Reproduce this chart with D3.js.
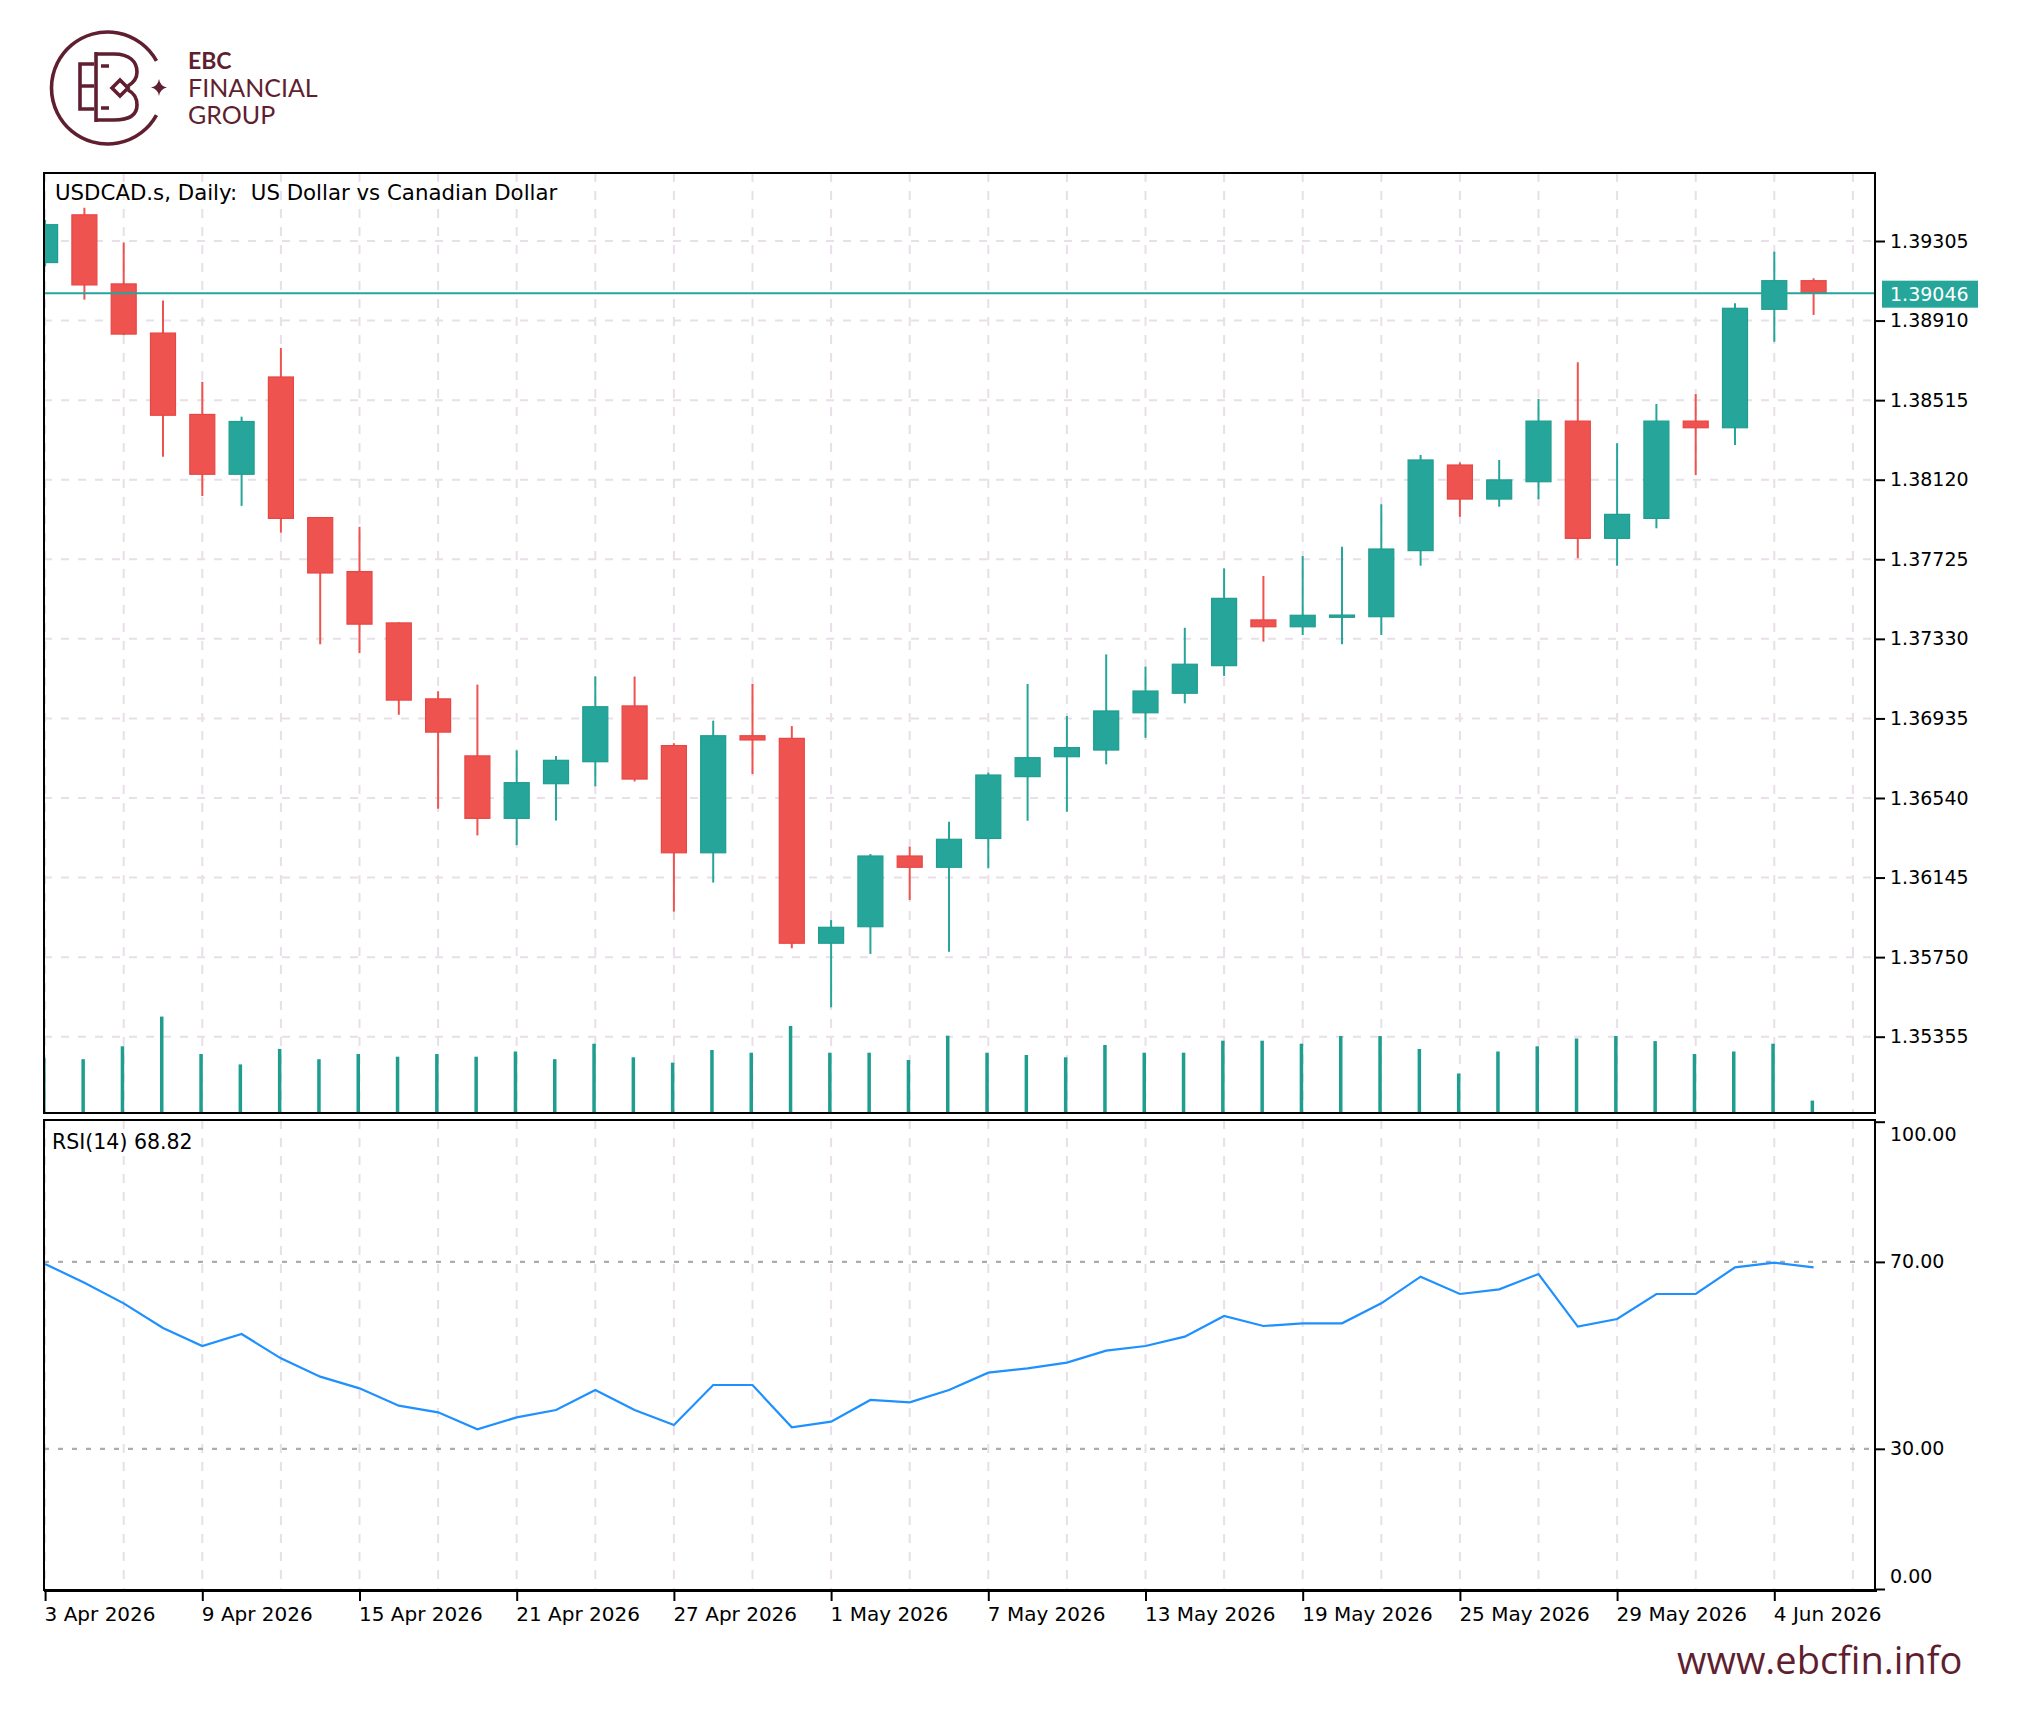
<!DOCTYPE html>
<html><head><meta charset="utf-8">
<script src="https://cdn.jsdelivr.net/npm/d3@7"></script>
<style>html,body{margin:0;padding:0;background:#fff;} svg{display:block;}</style>
</head><body>
<svg id="chart" width="2028" height="1710"></svg>
<script>
// ---------------- DATA ----------------
const dates = ["2026-04-03","2026-04-06","2026-04-07","2026-04-08","2026-04-09","2026-04-10",
"2026-04-13","2026-04-14","2026-04-15","2026-04-16","2026-04-17","2026-04-20","2026-04-21",
"2026-04-22","2026-04-23","2026-04-24","2026-04-27","2026-04-28","2026-04-29","2026-04-30",
"2026-05-01","2026-05-04","2026-05-05","2026-05-06","2026-05-07","2026-05-08","2026-05-11",
"2026-05-12","2026-05-13","2026-05-14","2026-05-15","2026-05-18","2026-05-19","2026-05-20",
"2026-05-21","2026-05-22","2026-05-25","2026-05-26","2026-05-27","2026-05-28","2026-05-29",
"2026-06-01","2026-06-02","2026-06-03","2026-06-04","2026-06-05"];
const open  = [1.39198,1.39435,1.39092,1.38848,1.38444,1.38147,1.38630,1.37932,1.37664,1.37409,
1.37032,1.36749,1.36439,1.36611,1.36720,1.36997,1.36800,1.36268,1.36849,1.36836,1.35819,1.35901,
1.36252,1.36196,1.36339,1.36646,1.36745,1.36778,1.36963,1.37060,1.37197,1.37424,1.37390,1.37437,
1.37440,1.37768,1.38193,1.38024,1.38110,1.38411,1.37829,1.37928,1.38411,1.38378,1.38966,1.39108];
const high  = [1.39410,1.39470,1.39298,1.39010,1.38606,1.38433,1.38774,1.37935,1.37886,1.37412,
1.37070,1.37103,1.36776,1.36749,1.37144,1.37143,1.36812,1.36924,1.37106,1.36897,1.35934,1.36262,
1.36298,1.36422,1.36666,1.37106,1.36947,1.37253,1.37192,1.37385,1.37680,1.37642,1.37741,1.37787,
1.37998,1.38243,1.38205,1.38218,1.38521,1.38703,1.38301,1.38496,1.38545,1.38996,1.39252,1.39120];
const low   = [1.39180,1.39014,1.38838,1.38234,1.38039,1.37990,1.37857,1.37303,1.37259,1.36953,
1.36487,1.36354,1.36306,1.36428,1.36598,1.36622,1.35976,1.36120,1.36659,1.35794,1.35501,1.35766,
1.36034,1.35777,1.36191,1.36427,1.36472,1.36707,1.36839,1.37010,1.37146,1.37316,1.37349,1.37303,
1.37349,1.37693,1.37936,1.37986,1.38023,1.37730,1.37693,1.37879,1.38143,1.38292,1.38805,1.38938];
const close = [1.39386,1.39087,1.38843,1.38440,1.38147,1.38409,1.37928,1.37657,1.37403,1.37026,
1.36867,1.36439,1.36616,1.36727,1.36993,1.36634,1.36268,1.36849,1.36828,1.35819,1.35898,1.36252,
1.36196,1.36335,1.36654,1.36740,1.36790,1.36972,1.37071,1.37204,1.37531,1.37390,1.37447,1.37448,
1.37776,1.38218,1.38024,1.38119,1.38411,1.37829,1.37948,1.38411,1.38378,1.38971,1.39108,1.39046];
const volume = [55000,53800,66700,96400,59000,48600,64100,53800,59000,56300,59000,56300,61500,
53800,69300,55700,50300,63000,60300,87000,60300,60300,53000,77300,60300,58000,55700,68000,60300,
60300,72300,72300,69300,77000,77000,64000,39500,61500,66700,74500,77000,71900,59000,61500,69300,12400];
const rsi = [69.55,65.55,61.13,55.85,52.00,54.57,49.36,45.44,42.94,39.23,37.80,34.17,36.73,38.31,
42.59,38.31,35.10,43.65,43.65,34.59,35.81,40.45,39.94,42.59,46.30,47.22,48.44,51.00,52.00,54.00,
58.42,56.28,56.85,56.85,61.13,66.84,63.13,64.13,67.41,56.14,57.78,63.13,63.13,68.83,69.84,68.82];
const priceTicks = [1.39305,1.38910,1.38515,1.38120,1.37725,1.37330,1.36935,1.36540,1.36145,1.35750,1.35355];
const rsiTicks = [0,30,70,100];
const rsiLevels = [30,70];
const dateTickIdx = [0,4,8,12,16,20,24,28,32,36,40,44];
const dateTickLabels = ["3 Apr 2026","9 Apr 2026","15 Apr 2026","21 Apr 2026","27 Apr 2026","1 May 2026",
"7 May 2026","13 May 2026","19 May 2026","25 May 2026","29 May 2026","4 Jun 2026"];
const lastPrice = 1.39046;
const title = "USDCAD.s, Daily:  US Dollar vs Canadian Dollar";
const rsiLabel = "RSI(14) 68.82";

// ---------------- LAYOUT ----------------
const L=44, R=1875, T=173, MB=1113, RT=1120, RB=1590;
const FONT = "'DejaVu Sans', sans-serif";
const UP = "#26A69A", DN = "#EF5350", GRID = "#e8dfe8", BRAND = "#5f1f30";

const svg = d3.select('#chart');
svg.append('rect').attr('width',2028).attr('height',1710).attr('fill','#fff');

const x = d3.scaleLinear().domain([0, dates.length-1]).range([45.1, 45.1 + 39.3*(dates.length-1)]);
const y = d3.scaleLinear().domain([1.349762, 1.396426]).range([MB, T]);
const yr = d3.scaleLinear().domain([0,100]).range([1589, 1121.7]);
const yv = d3.scaleLinear().domain([0,100000]).range([MB, MB-100]);

const defs = svg.append('defs');
defs.append('clipPath').attr('id','cMain').append('rect').attr('x',L+1).attr('y',T).attr('width',R-L-1).attr('height',MB-T);
defs.append('clipPath').attr('id','cRsi').append('rect').attr('x',L).attr('y',RT).attr('width',R-L).attr('height',RB-RT);

const gMain = svg.append('g').attr('clip-path','url(#cMain)');
const gRsi = svg.append('g').attr('clip-path','url(#cRsi)');

// grid
const gridIdx = d3.range(0, dates.length+1, 2);
[[gMain,T,MB],[gRsi,RT,RB]].forEach(([g,a,b])=>{
  g.selectAll('line.vg').data(gridIdx).join('line').attr('class','vg')
   .attr('x1',d=>x(d)).attr('x2',d=>x(d)).attr('y1',a).attr('y2',b)
   .attr('stroke',GRID).attr('stroke-width',2).attr('stroke-dasharray','9,9');
});
gMain.selectAll('line.hg').data(priceTicks).join('line').attr('class','hg')
  .attr('x1',L).attr('x2',R).attr('y1',d=>y(d)).attr('y2',d=>y(d))
  .attr('stroke',GRID).attr('stroke-width',2).attr('stroke-dasharray','8,9');

// volume
gMain.selectAll('rect.vol').data(volume).join('rect').attr('class','vol')
  .attr('x',(d,i)=>x(i)-3).attr('width',3.5).attr('y',d=>yv(d)).attr('height',d=>MB-yv(d))
  .attr('fill','#1f9d8f');

// candles
const idx = d3.range(dates.length);
gMain.selectAll('line.wick').data(idx).join('line').attr('class','wick')
  .attr('x1',i=>x(i)).attr('x2',i=>x(i)).attr('y1',i=>y(high[i])).attr('y2',i=>y(low[i]))
  .attr('stroke',i=>close[i]>=open[i]?UP:DN).attr('stroke-width',2);
gMain.selectAll('rect.body').data(idx).join('rect').attr('class','body')
  .attr('x',i=>x(i)-12.5).attr('width',25)
  .attr('y',i=>y(Math.max(open[i],close[i])))
  .attr('height',i=>Math.max(1.5, Math.abs(y(open[i])-y(close[i]))))
  .attr('fill',i=>close[i]>=open[i]?UP:DN)
  .attr('stroke',i=>close[i]>=open[i]?"#1f9d90":"#e84643").attr('stroke-width',1.2);

// current price line
gMain.append('line').attr('x1',L).attr('x2',R).attr('y1',y(lastPrice)).attr('y2',y(lastPrice))
  .attr('stroke',UP).attr('stroke-width',2);

// RSI levels and line
gRsi.selectAll('line.lvl').data(rsiLevels).join('line').attr('class','lvl')
  .attr('x1',L).attr('x2',R).attr('y1',d=>yr(d)).attr('y2',d=>yr(d))
  .attr('stroke','#acacac').attr('stroke-width',2.2).attr('stroke-dasharray','5,9');
gRsi.append('path').datum(rsi)
  .attr('d', d3.line().x((d,i)=>x(i)).y(d=>yr(d)))
  .attr('fill','none').attr('stroke','#1E90FF').attr('stroke-width',2.2);

// borders
svg.append('rect').attr('x',L).attr('y',T).attr('width',R-L).attr('height',MB-T)
  .attr('fill','none').attr('stroke','#000').attr('stroke-width',2);
svg.append('rect').attr('x',L).attr('y',RT).attr('width',R-L).attr('height',RB-RT)
  .attr('fill','none').attr('stroke','#000').attr('stroke-width',2);
svg.append('line').attr('x1',L).attr('x2',R+2).attr('y1',RB+0.5).attr('y2',RB+0.5)
  .attr('stroke','#000').attr('stroke-width',3);

// right price axis
const gy = svg.append('g').attr('transform',`translate(${R},0)`)
  .call(d3.axisRight(y).tickValues(priceTicks).tickFormat(d3.format('.5f')).tickSize(10).tickPadding(5));
gy.select('.domain').remove();
gy.selectAll('line').attr('stroke','#000').attr('stroke-width',2);
gy.selectAll('text').attr('font-family',FONT).attr('font-size',19).attr('fill','#000');

// current price tag
svg.append('rect').attr('x',R+7).attr('y',y(lastPrice)-12.5).attr('width',96).attr('height',27).attr('fill',UP);
svg.append('text').attr('x',R+15).attr('y',y(lastPrice)+1).attr('dy','0.35em')
  .attr('font-family',FONT).attr('font-size',19).attr('fill','#fff').text(d3.format('.5f')(lastPrice));

// RSI axis
const gr = svg.append('g').attr('transform',`translate(${R},0)`)
  .call(d3.axisRight(yr).tickValues(rsiTicks).tickFormat(d3.format('.2f')).tickSize(10).tickPadding(5));
gr.select('.domain').remove();
gr.selectAll('line').attr('stroke','#000').attr('stroke-width',2);
gr.selectAll('text').attr('font-family',FONT).attr('font-size',19).attr('fill','#000')
  .attr('dy',d=> d===100 ? '1.0em' : (d===0 ? '-0.35em' : '0.32em'));

// bottom date axis
const gx = svg.append('g').attr('transform',`translate(0,${RB})`)
  .call(d3.axisBottom(x).tickValues(dateTickIdx).tickFormat((d,i)=>dateTickLabels[i]).tickSize(11).tickPadding(6));
gx.select('.domain').remove();
gx.selectAll('line').attr('stroke','#000').attr('stroke-width',2);
gx.selectAll('text').attr('font-family',FONT).attr('font-size',20).attr('fill','#000')
  .attr('text-anchor','start').attr('x',-1);

// titles
svg.append('text').attr('x',55).attr('y',200).attr('font-family',FONT).attr('font-size',21.3)
  .style('white-space','pre').attr('xml:space','preserve')
  .attr('fill','#000').text(title);
svg.append('text').attr('x',52).attr('y',1149).attr('font-family',FONT).attr('font-size',20.5)
  .attr('fill','#000').text(rsiLabel);

// ---------------- BRAND ----------------
const logo = svg.append('g').attr('fill','none').attr('stroke',BRAND).attr('stroke-width',3.6)
  .attr('stroke-linecap','butt').attr('stroke-linejoin','miter');
const cx=107.5, cy=88, r=56;
const a0 = -29*Math.PI/180, a1 = 29*Math.PI/180;
logo.append('path').attr('d',
  `M${cx+r*Math.cos(a0)},${cy+r*Math.sin(a0)} A${r},${r} 0 1 0 ${cx+r*Math.cos(a1)},${cy+r*Math.sin(a1)}`);
logo.append('path').attr('d','M94,64 H80 V109 H94 M80,86 H94');
logo.append('path').attr('d','M96,52 V122');
logo.append('path').attr('d','M96,54 H114 C130,54 137,62 137,72 C137,79 133,83 128,86');
logo.append('path').attr('d','M128,90 C134,93 137,98 137,105 C137,114 130,120 114,120 H96');
logo.append('path').attr('d','M101,66 H109 M101,108 H109');
logo.append('path').attr('d','M112,88 L120,80 L128,88 L120,96 Z');
svg.append('path').attr('fill',BRAND)
  .attr('d','M159,79 Q160,86 167,87.5 Q160,89 159,96 Q158,89 151,87.5 Q158,86 159,79 Z');
svg.append('text').attr('x',188).attr('y',69).attr('font-family','Lato, sans-serif').attr('font-weight',700)
  .attr('font-size',23).attr('fill',BRAND).text('EBC');
svg.append('text').attr('x',188).attr('y',97).attr('font-family','Lato, sans-serif')
  .attr('font-size',25).attr('fill',BRAND).text('FINANCIAL');
svg.append('text').attr('x',188).attr('y',124).attr('font-family','Lato, sans-serif')
  .attr('font-size',25).attr('fill',BRAND).text('GROUP');
svg.append('text').attr('x',1677).attr('y',1674).attr('font-family',"'Open Sans', sans-serif")
  .attr('font-size',38).attr('fill',BRAND).text('www.ebcfin.info');
</script>
</body></html>
